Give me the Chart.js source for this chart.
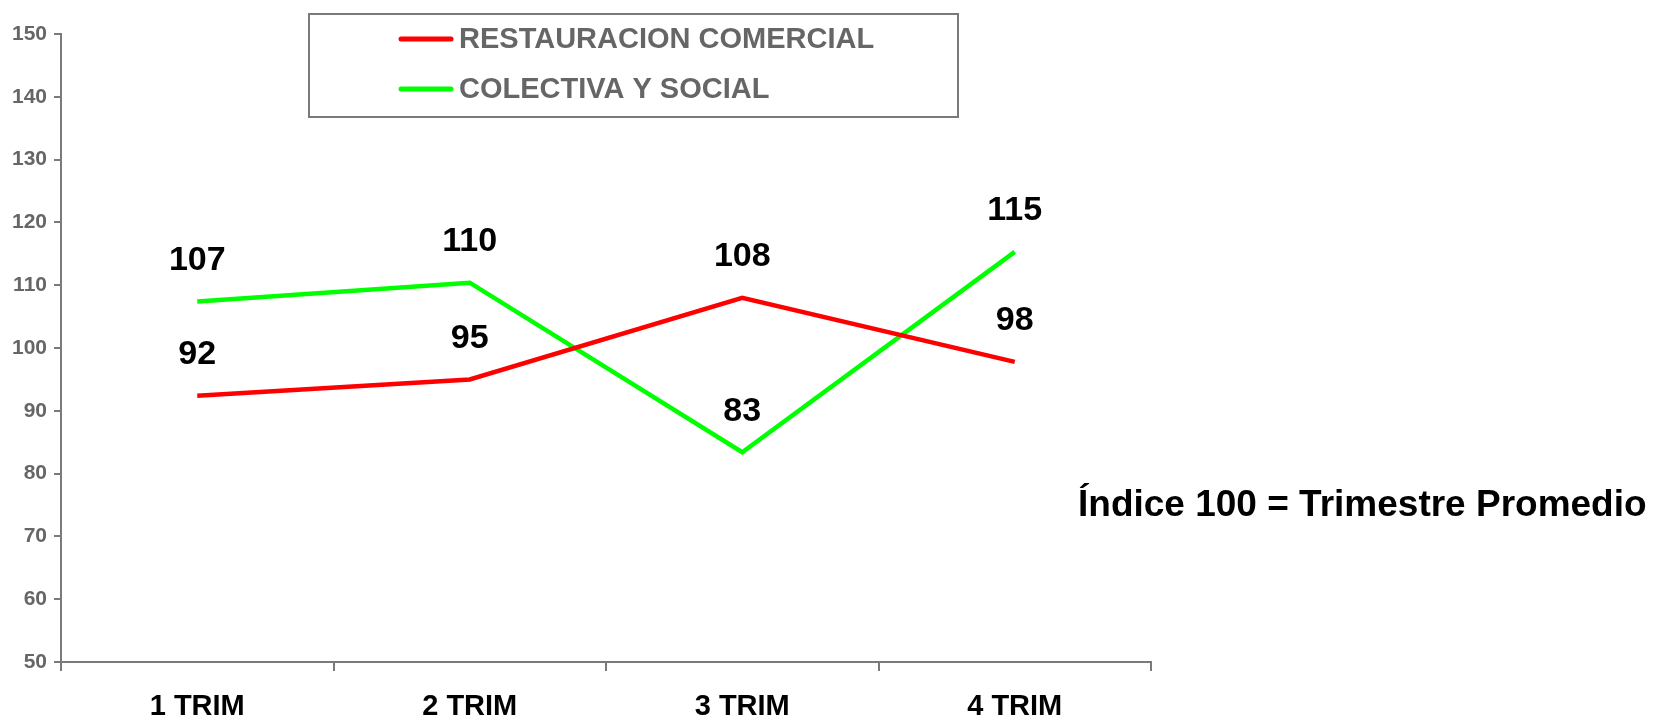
<!DOCTYPE html>
<html>
<head>
<meta charset="utf-8">
<script src="https://cdn.jsdelivr.net/npm/chart.js@4"></script>
<style>
  html, body { margin: 0; padding: 0; background: #fff; }
  #wrap { width: 1656px; height: 717px; position: relative; }
</style>
</head>
<body>
<div id="wrap"><canvas id="chart"></canvas></div>
<script>
const categories = ["1 TRIM", "2 TRIM", "3 TRIM", "4 TRIM"];
const seriesNames = ["RESTAURACION COMERCIAL", "COLECTIVA Y SOCIAL"];
const restauracionComercial = [92.4, 95.0, 108.0, 97.8];
const colectivaSocial = [107.4, 110.4, 83.4, 115.3];
const seriesColors = ["#ff0000", "#00ff00"];
const yMin = 50, yMax = 150, yStep = 10;
const noteText = "Índice 100 = Trimestre Promedio";

const FONT = "'Liberation Sans', Arial, sans-serif";
const AXIS_GRAY = "#7a7a7a";

// value labels above each point
const pointLabels = {
  id: "pointLabels",
  afterDatasetsDraw(chart) {
    const ctx = chart.ctx;
    ctx.save();
    ctx.font = "bold 34px " + FONT;
    ctx.fillStyle = "#000";
    ctx.textAlign = "center";
    ctx.textBaseline = "middle";
    chart.data.datasets.forEach((ds, i) => {
      chart.getDatasetMeta(i).data.forEach((pt, j) => {
        ctx.fillText(String(Math.round(ds.data[j])), pt.x, pt.y - 41);
      });
    });
    ctx.restore();
  }
};

// boxed legend + side note
const boxLegend = {
  id: "boxLegend",
  afterDraw(chart) {
    const ctx = chart.ctx;
    ctx.save();
    ctx.strokeStyle = AXIS_GRAY;
    ctx.lineWidth = 2;
    ctx.strokeRect(309, 14, 649, 103);

    ctx.font = "bold 29px " + FONT;
    ctx.textBaseline = "middle";
    ctx.textAlign = "left";
    chart.data.datasets.forEach((ds, i) => {
      const y = 39 + i * 50;
      ctx.strokeStyle = ds.borderColor;
      ctx.lineWidth = 5;
      ctx.lineCap = "round";
      ctx.beginPath();
      ctx.moveTo(401, y);
      ctx.lineTo(451, y);
      ctx.stroke();
      ctx.fillStyle = "#666";
      ctx.fillText(ds.label, 459, y + 1);
    });

    ctx.font = "bold 37px " + FONT;
    ctx.fillStyle = "#000";
    ctx.fillText(noteText, 1078, 506);
    ctx.restore();
  }
};

new Chart(document.getElementById("chart"), {
  type: "line",
  data: {
    labels: categories,
    datasets: [
      {
        label: seriesNames[0],
        data: restauracionComercial,
        borderColor: seriesColors[0],
        backgroundColor: seriesColors[0],
        borderWidth: 4.5,
        pointRadius: 0,
        tension: 0
      },
      {
        label: seriesNames[1],
        data: colectivaSocial,
        borderColor: seriesColors[1],
        backgroundColor: seriesColors[1],
        borderWidth: 4.5,
        pointRadius: 0,
        tension: 0
      }
    ]
  },
  options: {
    responsive: true,
    maintainAspectRatio: false,
    animation: false,
    layout: { padding: { left: 0, right: 505, top: 34, bottom: 0 } },
    plugins: {
      legend: { display: false },
      tooltip: { enabled: false }
    },
    scales: {
      x: {
        offset: true,
        grid: {
          offset: true,
          drawOnChartArea: false,
          drawTicks: true,
          tickLength: 9,
          color: AXIS_GRAY,
          lineWidth: 2
        },
        border: { display: true, color: AXIS_GRAY, width: 2 },
        ticks: {
          color: "#000",
          font: { family: FONT, size: 29, weight: "bold" },
          padding: 19,
          maxRotation: 0
        },
        afterFit: (s) => { s.height = 55; }
      },
      y: {
        min: yMin,
        max: yMax,
        grid: {
          drawOnChartArea: false,
          drawTicks: true,
          tickLength: 7,
          color: AXIS_GRAY,
          lineWidth: 2
        },
        border: { display: true, color: AXIS_GRAY, width: 2 },
        ticks: {
          stepSize: yStep,
          color: "#666",
          font: { family: FONT, size: 21, weight: "bold" },
          padding: 7
        },
        afterFit: (s) => { s.width = 61; }
      }
    }
  },
  plugins: [pointLabels, boxLegend]
});
</script>
</body>
</html>
